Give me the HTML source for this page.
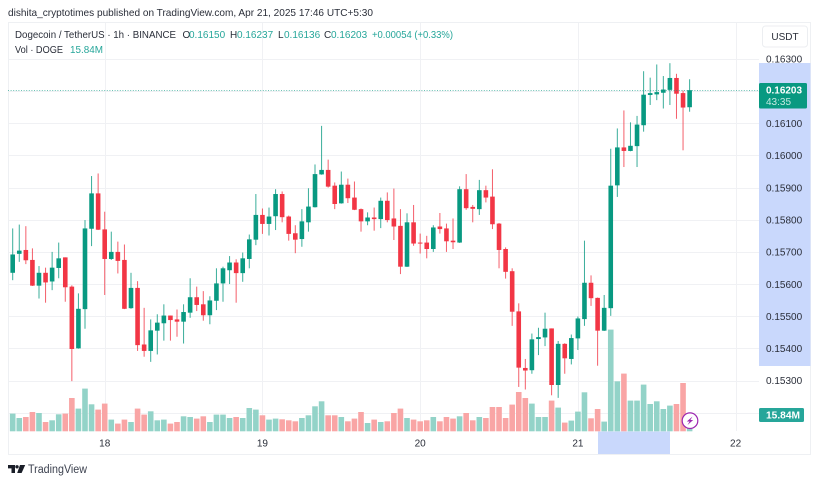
<!DOCTYPE html>
<html lang="en">
<head>
<meta charset="utf-8">
<title>DOGE/USDT 1h chart</title>
<style>
html,body{margin:0;padding:0;background:#fff;width:819px;height:484px;overflow:hidden}
svg{display:block;font-family:"Liberation Sans",sans-serif;filter:blur(0.3px)}
text{fill:#2a2e39;font-size:10px}
</style>
</head>
<body>
<svg id="chart" width="819" height="484" viewBox="0 0 819 484" xmlns="http://www.w3.org/2000/svg">
  <rect x="0" y="0" width="819" height="484" fill="#fff"/>
  <text x="8" y="16" textLength="365" lengthAdjust="spacingAndGlyphs" style="font-size:10.5px;fill:#2a2e39">dishita_cryptotimes published on TradingView.com, Apr 21, 2025 17:46 UTC+5:30</text>
  <rect x="8.5" y="22.5" width="802" height="432" fill="none" stroke="#eef0f3"/>
  <rect x="759" y="63" width="51.5" height="303" fill="#c9d8fc"/>
  <rect x="598" y="431.5" width="72" height="22.5" fill="#c9d8fc"/>
  <g id="grid"></g>
  <g id="volumes"></g>
  <g id="candles"></g>
  <line id="lastLine" x1="8" x2="759" stroke="#089981" stroke-width="1" stroke-dasharray="1 1.6" opacity="0.6"/>
  <g id="priceLabels"></g>
  <g id="timeLabels"></g>

  <g>
    <text x="15" y="38" textLength="161" lengthAdjust="spacingAndGlyphs">Dogecoin / TetherUS · 1h · BINANCE</text>
    <text x="182.5" y="38">O</text>
    <text x="189" y="38" style="fill:#26a69a">0.16150</text>
    <text x="230" y="38">H</text>
    <text x="237" y="38" style="fill:#26a69a">0.16237</text>
    <text x="278" y="38">L</text>
    <text x="284" y="38" style="fill:#26a69a">0.16136</text>
    <text x="324" y="38">C</text>
    <text x="331" y="38" style="fill:#26a69a">0.16203</text>
    <text x="372" y="38" textLength="81" lengthAdjust="spacingAndGlyphs" style="fill:#26a69a">+0.00054 (+0.33%)</text>
    <text x="15" y="53" textLength="48" lengthAdjust="spacingAndGlyphs">Vol · DOGE</text>
    <text x="70" y="53" textLength="33" lengthAdjust="spacingAndGlyphs" style="fill:#26a69a">15.84M</text>
  </g>

  <g>
    <rect x="762.5" y="26" width="45" height="21" rx="3" fill="#fff" stroke="#eceef1"/>
    <text x="785" y="40" text-anchor="middle" style="font-size:10px">USDT</text>
  </g>

  <g>
    <rect x="759" y="83" width="48" height="25.5" rx="1.5" fill="#089981"/>
    <text x="766" y="93.5" style="fill:#fff;font-size:10px;font-weight:bold" textLength="36" lengthAdjust="spacingAndGlyphs">0.16203</text>
    <text x="766" y="105" style="fill:#c4e8e0;font-size:10px">43:35</text>
  </g>
  <g>
    <rect x="759" y="408" width="45" height="14" rx="1.5" fill="#26a69a"/>
    <text x="766" y="418.5" style="fill:#fff;font-size:10px;font-weight:bold" textLength="34" lengthAdjust="spacingAndGlyphs">15.84M</text>
  </g>

  <g>
    <circle cx="690" cy="420.7" r="7.8" fill="#fff" stroke="#9c27b0" stroke-width="1.2"/>
    <polygon points="692.5,416.5 686.8,421.5 689.6,421.5 687.5,425 693.2,420 690.4,420" fill="#9c27b0"/>
  </g>

  <g>
    <polygon points="8,465 15,465 15,473 11.5,473 11.5,468.4 8,468.4" fill="#1a1e28"/>
    <circle cx="17" cy="466.8" r="1.7" fill="#1a1e28"/>
    <polygon points="20,465 25.2,465 21.6,473 17.2,473" fill="#1a1e28"/>
    <text x="28" y="473" textLength="59" lengthAdjust="spacingAndGlyphs" style="font-size:11.5px;fill:#3d4250">TradingView</text>
  </g>
</svg>
<script>
const opens = [0.15635,0.15694,0.15706,0.15675,0.15595,0.15635,0.15608,0.15650,0.15683,0.15592,0.15400,0.15522,0.15772,0.15882,0.15770,0.15678,0.15700,0.15675,0.15525,0.15588,0.15412,0.15392,0.15455,0.15478,0.15502,0.15490,0.15483,0.15511,0.15559,0.15537,0.15503,0.15548,0.15602,0.15643,0.15667,0.15634,0.15678,0.15738,0.15815,0.15787,0.15811,0.15880,0.15810,0.15758,0.15740,0.15792,0.15839,0.15941,0.15955,0.15906,0.15851,0.15909,0.15869,0.15833,0.15795,0.15807,0.15802,0.15859,0.15804,0.15781,0.15654,0.15792,0.15729,0.15729,0.15709,0.15779,0.15773,0.15735,0.15729,0.15895,0.15840,0.15833,0.15892,0.15872,0.15788,0.15709,0.15640,0.15515,0.15339,0.15332,0.15429,0.15434,0.15462,0.15286,0.15414,0.15367,0.15431,0.15491,0.15604,0.15557,0.15455,0.15525,0.15907,0.16025,0.16014,0.16029,0.16094,0.16188,0.16190,0.16195,0.16204,0.16241,0.16194,0.16150];
const highs = [0.15773,0.15785,0.15780,0.15711,0.15656,0.15651,0.15700,0.15729,0.15683,0.15596,0.15571,0.15799,0.15936,0.15944,0.15825,0.15763,0.15732,0.15723,0.15635,0.15609,0.15526,0.15490,0.15506,0.15537,0.15502,0.15521,0.15537,0.15618,0.15592,0.15578,0.15562,0.15649,0.15654,0.15687,0.15677,0.15698,0.15754,0.15880,0.15835,0.15838,0.15895,0.15888,0.15813,0.15783,0.15833,0.15898,0.15972,0.16092,0.15987,0.15916,0.15950,0.15928,0.15919,0.15835,0.15823,0.15838,0.15869,0.15885,0.15897,0.15833,0.15820,0.15846,0.15757,0.15750,0.15783,0.15821,0.15788,0.15804,0.15904,0.15942,0.15846,0.15924,0.15906,0.15957,0.15790,0.15714,0.15649,0.15540,0.15367,0.15446,0.15464,0.15511,0.15462,0.15423,0.15416,0.15443,0.15499,0.15735,0.15627,0.15558,0.15566,0.16021,0.16084,0.16140,0.16103,0.16123,0.16262,0.16242,0.16283,0.16247,0.16287,0.16254,0.16202,0.16237];
const lows = [0.15612,0.15669,0.15662,0.15594,0.15555,0.15542,0.15581,0.15618,0.15545,0.15298,0.15399,0.15461,0.15718,0.15768,0.15566,0.15675,0.15633,0.15522,0.15523,0.15392,0.15374,0.15358,0.15381,0.15424,0.15424,0.15436,0.15415,0.15495,0.15516,0.15486,0.15475,0.15519,0.15545,0.15600,0.15542,0.15607,0.15649,0.15721,0.15756,0.15751,0.15768,0.15792,0.15735,0.15696,0.15716,0.15763,0.15838,0.15940,0.15900,0.15833,0.15850,0.15852,0.15830,0.15763,0.15783,0.15766,0.15774,0.15792,0.15737,0.15631,0.15653,0.15719,0.15695,0.15680,0.15700,0.15757,0.15700,0.15709,0.15728,0.15831,0.15792,0.15815,0.15854,0.15771,0.15649,0.15617,0.15470,0.15280,0.15272,0.15321,0.15379,0.15407,0.15254,0.15246,0.15321,0.15350,0.15395,0.15470,0.15532,0.15346,0.15454,0.15501,0.15871,0.15964,0.16013,0.15964,0.16074,0.16157,0.16172,0.16146,0.16157,0.16114,0.16016,0.16136];
const closes = [0.15692,0.15704,0.15674,0.15595,0.15635,0.15605,0.15651,0.15680,0.15590,0.15398,0.15523,0.15773,0.15882,0.15769,0.15678,0.15700,0.15672,0.15523,0.15588,0.15410,0.15392,0.15456,0.15480,0.15502,0.15488,0.15483,0.15513,0.15559,0.15535,0.15503,0.15549,0.15602,0.15649,0.15667,0.15634,0.15680,0.15739,0.15815,0.15787,0.15810,0.15880,0.15808,0.15756,0.15738,0.15795,0.15841,0.15942,0.15955,0.15903,0.15849,0.15909,0.15867,0.15831,0.15795,0.15807,0.15802,0.15859,0.15799,0.15779,0.15654,0.15792,0.15726,0.15726,0.15709,0.15776,0.15771,0.15733,0.15730,0.15895,0.15836,0.15834,0.15892,0.15869,0.15786,0.15706,0.15638,0.15514,0.15340,0.15331,0.15428,0.15435,0.15461,0.15286,0.15414,0.15369,0.15432,0.15493,0.15604,0.15556,0.15455,0.15526,0.15906,0.16025,0.16014,0.16030,0.16096,0.16189,0.16194,0.16197,0.16205,0.16241,0.16192,0.16149,0.16203];
const volumes = [17.7,13.3,14.3,19.3,18.3,9.3,11,17,17.7,33.3,22.7,42.7,27,21.7,27.7,11.7,7.7,11.7,9.3,22.7,16.7,20,11,11.7,7.7,9.3,15,14.3,12.7,15,9.3,16.7,16.7,13.3,14.3,13.3,23.3,21.7,16,11.7,12.7,12,11,10,13.3,16,25,30,16,16,14.3,10,12.7,19.3,8.3,11.7,9.3,10,18.3,22.7,13.3,11.7,10,11,14.3,10,14.3,12.7,15,18.3,11,14.3,13.3,24.3,24.3,13.3,26.7,39.3,33.3,27.7,14.3,14.3,30.7,23.7,8.7,10.7,19.7,39,13,22.3,9.7,101.7,50,57.7,30.7,30.7,46.7,27.3,30,22.3,25.7,27.3,48.3,15.84];
const priceTicks = [0.163,0.162,0.161,0.160,0.159,0.158,0.157,0.156,0.155,0.154,0.153,0.152];
const priceTickLabels = ["0.16300","","0.16100","0.16000","0.15900","0.15800","0.15700","0.15600","0.15500","0.15400","0.15300",""];
const dayLabels = ["18","19","20","21","22"];
const dayIndexes = [14,38,62,86,110];
const lastPrice = 0.16203;

const NS = "http://www.w3.org/2000/svg";
function priceToY(p){ return 59 + (0.163 - p) * 32150; }
function indexToX(i){ return 12.7 + i * 6.572; }
function volumeToHeight(v){ return v * 1.0; }
const VOLUME_BASE = 431.3;
const GREEN = "#089981", RED = "#f23645";

const gridG = document.getElementById("grid");
const volG = document.getElementById("volumes");
const candleG = document.getElementById("candles");
const priceG = document.getElementById("priceLabels");
const timeG = document.getElementById("timeLabels");

priceTicks.forEach(function(p, i){
  const y = Math.round(priceToY(p)) + 0.5;
  const l = document.createElementNS(NS, "line");
  l.setAttribute("x1", 9); l.setAttribute("x2", 759);
  l.setAttribute("y1", y); l.setAttribute("y2", y);
  l.setAttribute("stroke", "#f0f1f4");
  
  
  gridG.appendChild(l);
  if (priceTickLabels[i]) {
    const t = document.createElementNS(NS, "text");
    t.setAttribute("x", 766); t.setAttribute("y", priceToY(p) + 3.7);
    t.textContent = priceTickLabels[i];
    
    
    priceG.appendChild(t);
  }
});

dayIndexes.forEach(function(d, i){
  const x = Math.round(indexToX(d)) + 0.5;
  const l = document.createElementNS(NS, "line");
  l.setAttribute("x1", x); l.setAttribute("x2", x);
  l.setAttribute("y1", 23); l.setAttribute("y2", 431);
  l.setAttribute("stroke", "#f0f1f4");
  
  
  gridG.appendChild(l);
  const t = document.createElementNS(NS, "text");
  t.setAttribute("x", indexToX(d)); t.setAttribute("y", 446.5);
  t.setAttribute("text-anchor", "middle");
  t.textContent = dayLabels[i];
  
  
  timeG.appendChild(t);
});

volumes.forEach(function(v, i){
  const up = closes[i] >= opens[i];
  const h = volumeToHeight(v);
  const r = document.createElementNS(NS, "rect");
  r.setAttribute("x", indexToX(i) - 2.8);
  r.setAttribute("y", VOLUME_BASE - h);
  r.setAttribute("width", 5.6);
  r.setAttribute("height", h);
  r.setAttribute("fill", up ? "#93d3c8" : "#f9a5a5");
  
  
  volG.appendChild(r);
});

opens.forEach(function(o, i){
  const c = closes[i];
  const up = c >= o;
  const color = up ? GREEN : RED;
  const x = indexToX(i);
  const top = priceToY(Math.max(o, c));
  const bot = priceToY(Math.min(o, c));
  const wick = document.createElementNS(NS, "line");
  wick.setAttribute("x1", x); wick.setAttribute("x2", x);
  wick.setAttribute("y1", priceToY(highs[i]));
  wick.setAttribute("y2", priceToY(lows[i]));
  wick.setAttribute("stroke", color);
  wick.setAttribute("stroke-width", 1);
  wick.setAttribute("opacity", 0.8);
  
  
  candleG.appendChild(wick);
  const body = document.createElementNS(NS, "rect");
  body.setAttribute("x", x - 2.3);
  body.setAttribute("y", top);
  body.setAttribute("width", 4.6);
  body.setAttribute("height", Math.max(bot - top, 1));
  body.setAttribute("fill", color);
  
  
  candleG.appendChild(body);
});

const lastLine = document.getElementById("lastLine");
lastLine.setAttribute("y1", Math.round(priceToY(lastPrice)) + 0.5);
lastLine.setAttribute("y2", Math.round(priceToY(lastPrice)) + 0.5);
</script>
</body>
</html>
